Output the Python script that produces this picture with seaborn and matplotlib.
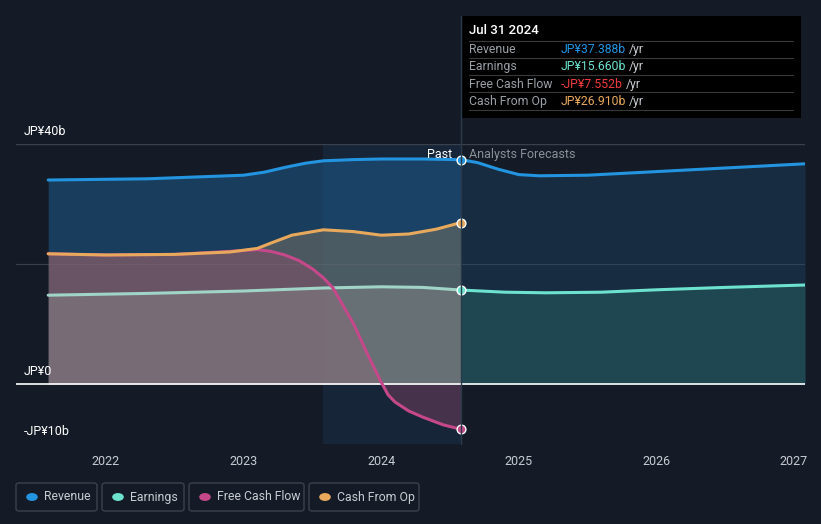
import matplotlib
matplotlib.use("Agg")
import matplotlib.pyplot as plt
import numpy as np
import pandas as pd
import seaborn as sns
from matplotlib.patches import FancyBboxPatch, Rectangle

# values in JP¥ billions, x in decimal years
rev_x = [2021.58, 2022.3, 2023.0, 2023.15, 2023.3, 2023.45, 2023.58, 2023.8, 2024.0, 2024.3, 2024.58]
rev_y = [34.0, 34.2, 34.8, 35.3, 36.1, 36.8, 37.2, 37.4, 37.5, 37.5, 37.388]
rev_fx = [2024.58, 2024.7, 2024.85, 2025.0, 2025.15, 2025.5, 2026.0, 2026.5, 2027.08]
rev_fy = [37.388, 36.9, 35.8, 34.9, 34.7, 34.8, 35.4, 36.0, 36.7]

earn_x = [2021.58, 2022.3, 2023.0, 2023.58, 2024.0, 2024.3, 2024.58]
earn_y = [14.8, 15.1, 15.5, 16.0, 16.2, 16.1, 15.66]
earn_fx = [2024.58, 2024.9, 2025.2, 2025.6, 2026.0, 2026.5, 2027.08]
earn_fy = [15.66, 15.3, 15.2, 15.3, 15.7, 16.1, 16.5]

cfo_x = [2021.58, 2022.0, 2022.5, 2022.9, 2023.1, 2023.2, 2023.35, 2023.58, 2023.8, 2024.0, 2024.2,
         2024.4, 2024.58]
cfo_y = [21.7, 21.5, 21.6, 22.0, 22.6, 23.5, 24.8, 25.7, 25.4, 24.8, 25.0, 25.8, 26.91]

fcf_x = [2021.58, 2022.0, 2022.5, 2022.9, 2023.1, 2023.2, 2023.3, 2023.4, 2023.5, 2023.58, 2023.65,
         2023.75, 2023.8, 2023.9, 2024.0, 2024.05, 2024.1, 2024.2, 2024.3, 2024.45, 2024.58]
fcf_y = [21.7, 21.5, 21.6, 22.1, 22.4, 22.1, 21.5, 20.6, 19.2, 17.7, 16.0, 12.0, 10.0, 5.0, 0.3,
         -1.8, -3.0, -4.5, -5.5, -6.8, -7.552]

years = [2022, 2023, 2024, 2025, 2026, 2027]
y_ticks = [40, 0, -10]
y_tick_labels = ["JP¥40b", "JP¥0", "-JP¥10b"]

series_names = ["Revenue", "Earnings", "Free Cash Flow", "Cash From Op"]
colors = ["#2394df", "#6de3cf", "#c5488a", "#e8a95c"]
value_texts = ["JP¥37.388b", "JP¥15.660b", "-JP¥7.552b", "JP¥26.910b"]
value_colors = ["#2394df", "#6de3cf", "#f03c3c", "#e8a95c"]

BG = "#151b26"
W, H = 821, 524

sns.set_theme(style="dark")
plt.rcParams["font.family"] = ["Roboto", "DejaVu Sans"]

fig = plt.figure(figsize=(W / 100, H / 100), dpi=100, facecolor=BG)


def fx(px):
    return px / W


def fy(py):
    return 1 - py / H


# axes spans pixels x 16..805, y 144 (40b) .. 444 (-10b)
ax = fig.add_axes([fx(16), fy(444), fx(805) - fx(16), fy(144) - fy(444)])
ax.set_facecolor(BG)
x0 = 2022 - 90 / 137.6
ax.set_xlim(x0, 2027.08)
ax.set_ylim(-10, 40)
for s in ax.spines.values():
    s.set_visible(False)
ax.grid(False)

# highlight band for last year of past
ax.axvspan(2023.58, 2024.58, color="#1c5f97", alpha=0.16, lw=0, zorder=0)

# grid lines
ax.axhline(40, color="#3a414c", lw=1, zorder=0.5)
ax.axhline(20, color="#39404b", lw=0.8, zorder=0.5)
ax.axhline(-10, color="#2e3540", lw=0.8, zorder=0.5)

# fills
ax.fill_between(rev_x, rev_y, 0, color="#1d5a8c", alpha=0.55, lw=0, zorder=1)
ax.fill_between(rev_fx, rev_fy, 0, color="#1d4d75", alpha=0.35, lw=0, zorder=1)
ax.fill_between(cfo_x, cfo_y, 0, color="#8a7a62", alpha=0.45, lw=0, zorder=1)
ax.fill_between(fcf_x, fcf_y, 0, color="#a04f70", alpha=0.35, lw=0, zorder=1)
ax.fill_between(earn_x, earn_y, 0, color="#8a8a8a", alpha=0.45, lw=0, zorder=1)
ax.fill_between(earn_fx, earn_fy, 0, color="#2c7a74", alpha=0.35, lw=0, zorder=1)

ax.axhline(0, color="white", lw=1.2, zorder=5)

# lines
lines = [
    (rev_x, rev_y, colors[0]), (rev_fx, rev_fy, colors[0]),
    (earn_x, earn_y, "#9fd4c6"), (earn_fx, earn_fy, colors[1]),
    (fcf_x, fcf_y, colors[2]),
    (cfo_x, cfo_y, colors[3]),
]
for xs, ys, c in lines:
    sns.lineplot(x=xs, y=ys, ax=ax, color=c, lw=2.2, zorder=6, sort=False)

# end markers
ends = [(rev_x[-1], rev_y[-1], colors[0]), (earn_x[-1], earn_y[-1], colors[1]),
        (fcf_x[-1], fcf_y[-1], colors[2]), (cfo_x[-1], cfo_y[-1], colors[3])]
for ex, ey, c in ends:
    ax.scatter([ex], [ey], s=40, color=c, edgecolor="white", linewidth=1.0, zorder=8)

ax.set_xticks(years)
ax.set_xticklabels([str(y) for y in years], color="#c8ccd2", fontsize=9)
ax.tick_params(axis="x", length=0, pad=8)
ax.set_yticks([])
ax.set_xlabel("")
ax.set_ylabel("")

# y labels
for v, lab in zip(y_ticks, y_tick_labels):
    ax.text(x0 + 8 / 137.6, v + 1.0, lab, color="white", fontsize=9, va="bottom", ha="left", zorder=9)

# vertical divider line
fig.add_artist(plt.Line2D([fx(461), fx(461)], [fy(16), fy(444)], color="#2b3a4b", lw=1))

ax.text(2024.58 - 0.06, 37.1, "Past", color="white", fontsize=9, ha="right", va="bottom", zorder=9)
ax.text(2024.58 + 0.06, 37.1, "Analysts Forecasts", color="#8b9097", fontsize=9, ha="left",
        va="bottom", zorder=9)

# tooltip box
fig.add_artist(Rectangle((fx(461), fy(118)), fx(801) - fx(461), fy(16) - fy(118), color="black", lw=0))
fig.text(fx(469), fy(31), "Jul 31 2024", color="white", fontsize=9.5, va="center", ha="left",
         fontweight="medium")
for py in [41, 58, 75, 92, 110]:
    fig.add_artist(plt.Line2D([fx(469), fx(793)], [fy(py), fy(py)], color="#3a3a3a", lw=0.8))
for i, (name, val, vc) in enumerate(zip(series_names, value_texts, value_colors)):
    py = 49.5 + i * 17.3
    fig.text(fx(469), fy(py), name, color="#9aa0a6", fontsize=8.8, va="center", ha="left")
    t = fig.text(fx(561), fy(py), val, color=vc, fontsize=8.8, va="center", ha="left")
    fig.canvas.draw()
    bb = t.get_window_extent()
    fig.text(bb.x1 / W + 3 / W, fy(py), "/yr", color="#c8ccd2", fontsize=8.8, va="center", ha="left")

# legend boxes
boxes = [(16, 97), (102, 184), (189, 304), (309, 419)]
for (l, r), name, c in zip(boxes, series_names, colors):
    fig.add_artist(FancyBboxPatch((fx(l), fy(511)), fx(r) - fx(l), fy(483) - fy(511),
                                  boxstyle="round,pad=0,rounding_size=0.004", fc=BG, ec="#3c424c", lw=1))
    fig.add_artist(plt.Circle((fx(l + 16), fy(497)), 0.0062, color=c, transform=fig.transFigure))
    fig.text(fx(l + 28), fy(497), name, color="#c8ccd2", fontsize=8.8, va="center", ha="left")

fig.savefig("out.png", dpi=100, facecolor=BG)
